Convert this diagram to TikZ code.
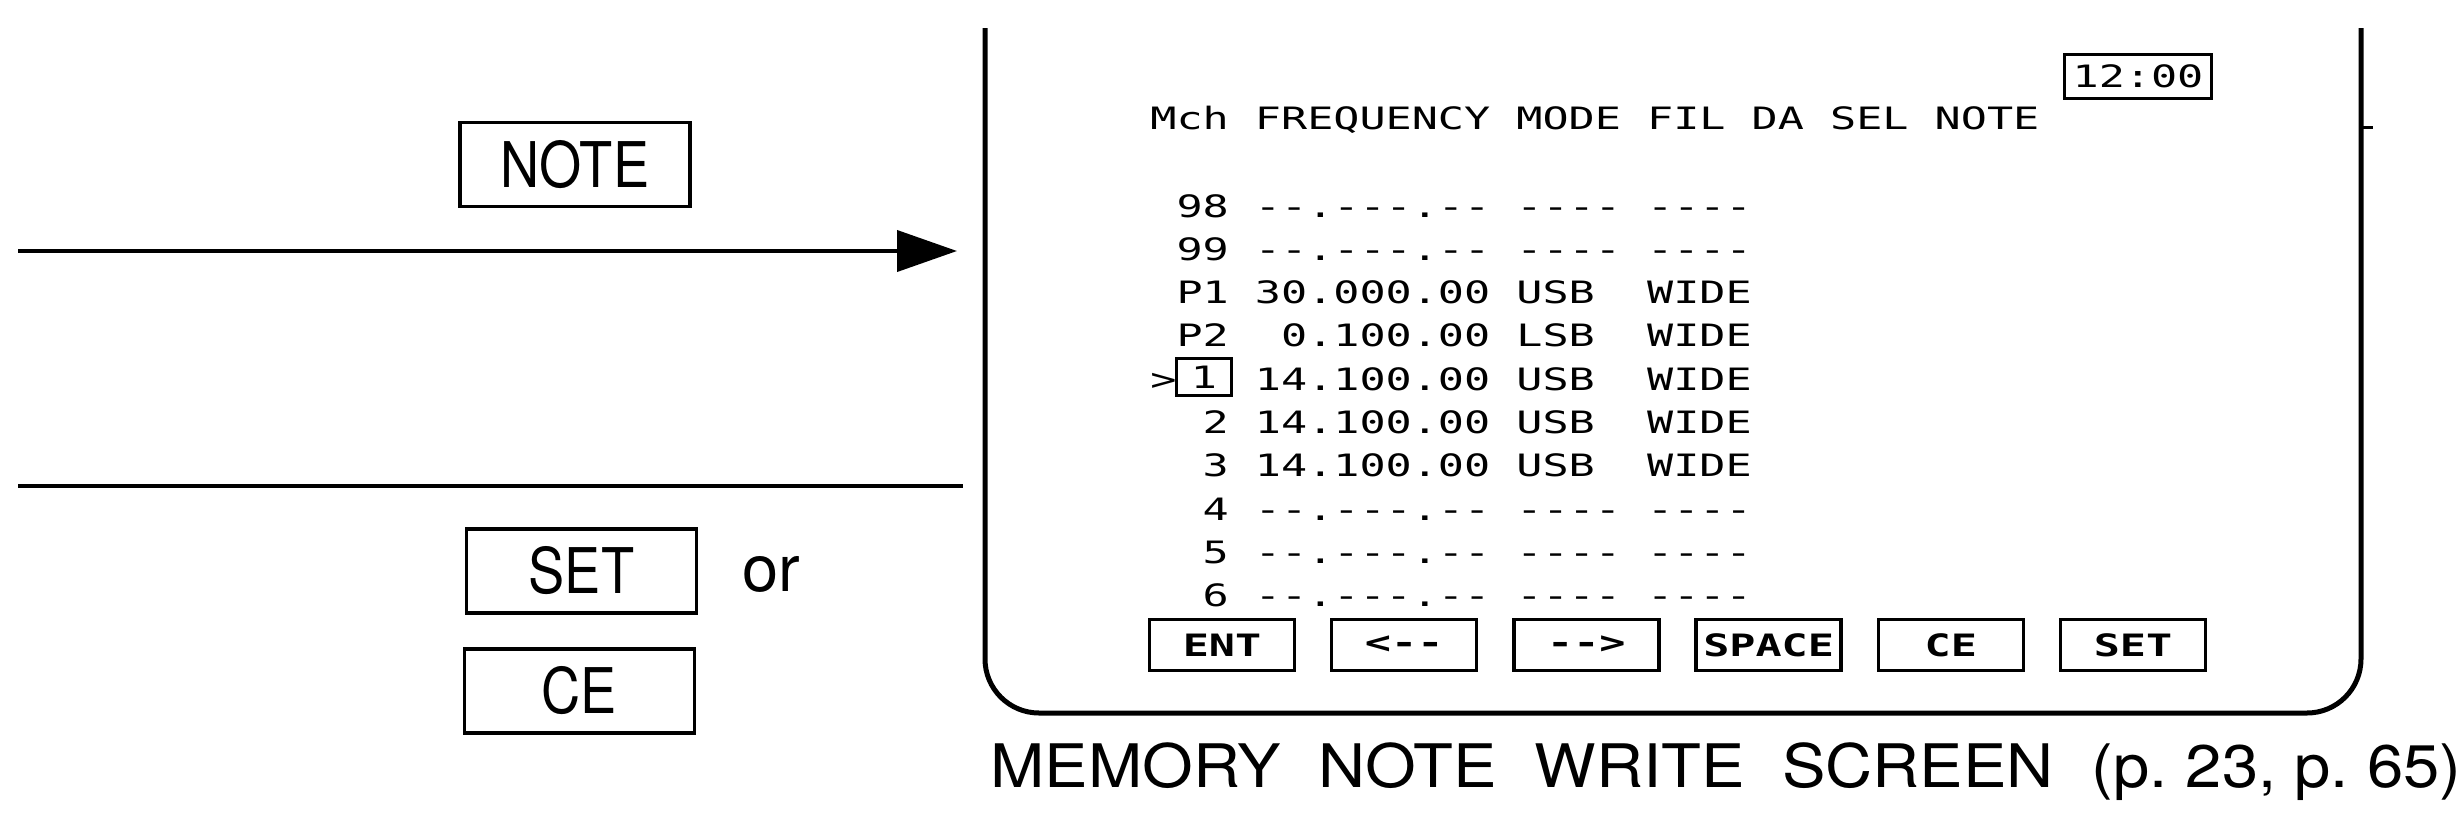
\documentclass[tikz,border=0pt]{standalone}
\usepackage{fontspec}
\setmainfont{TeX Gyre Heros}
\newfontfamily\keyfont[FakeStretch=0.86]{TeX Gyre Heros}
\newfontfamily\capfont[FakeStretch=1.086]{TeX Gyre Heros}
\newfontfamily\scrfont[FakeStretch=1.41,Ligatures=TeXOff]{DejaVu Sans Mono}
\usetikzlibrary{arrows.meta, positioning}
\newcommand{\capgap}{\hspace{0.63em}}
\tikzstyle{key} = [rectangle, draw=black, line width=1.75pt, minimum width=115pt, minimum height=42pt, inner sep=0pt, font=\keyfont\fontsize{31.5}{36}\selectfont]
\tikzstyle{softkey} = [rectangle, draw=black, line width=1.75pt, minimum width=72.5pt, minimum height=25.5pt, inner sep=0pt, font=\scrfont\bfseries\fontsize{15.4}{18}\selectfont]
\tikzstyle{clock} = [softkey, minimum width=73.5pt, minimum height=22pt, font=\scrfont\fontsize{15.4}{18}\selectfont]
\tikzstyle{scrrow} = [anchor=base west, inner sep=0pt, font=\scrfont\fontsize{15.4}{18}\selectfont]
\tikzstyle{arrow} = [line width=2pt,-{Triangle[length=30pt,width=20.5pt]}]
\tikzstyle{connect} = [line width=1.75pt,-]
\tikzstyle{scrframe} = [line width=2.5pt, rounded corners=27pt]

\begin{document}
\begin{tikzpicture}[x=0.5pt, y=-0.5pt]
\useasboundingbox (0,0) rectangle (2459,820);

% keys on the left
\node(note)[key] at (575,164.5) {NOTE};
\node(set)[key] at (581.5,571) {SET};
\node(ce)[key] at (579.5,691) {CE};
\node(or)[anchor=base west, inner sep=0pt, font=\fontsize{32.5}{38}\selectfont] at (742,591) {or};

\coordinate (a1) at (18,251);
\coordinate (a2) at (957,251);
\coordinate (b1) at (18,486);
\coordinate (b2) at (963,486);

\draw [arrow] (a1) -- (a2);
\draw [connect] (b1) -- (b2);

% screen
\draw [scrframe] (985,28) -- (985,713) -- (2361,713) -- (2361,28);
\draw [line width=1.5pt] (2361,127) -- (2373,127);
\node(clk)[clock] at (2138,76.5) {12:00};
\node(head)[scrrow] at (1150,129) {Mch FREQUENCY MODE FIL DA SEL NOTE};

\foreach \txt [count=\i from 0] in {{~98 --.---.-- ---- ----},{~99 --.---.-- ---- ----},
  {~P1 30.000.00 USB~~WIDE},{~P2~~0.100.00 LSB~~WIDE},{>~~~14.100.00 USB~~WIDE},
  {~~2 14.100.00 USB~~WIDE},{~~3 14.100.00 USB~~WIDE},{~~4 --.---.-- ---- ----},
  {~~5 --.---.-- ---- ----},{~~6 --.---.-- ---- ----}}
  \node(r\i)[scrrow] at (1150,{217+43.3*\i}) {\txt};

\node(cur)[softkey, minimum width=27.5pt, minimum height=18.5pt, line width=1.5pt, font=\scrfont\fontsize{15.4}{18}\selectfont] at (1204,377) {1};

\foreach \lbl [count=\i from 0] in {ENT,{<--},{-->},SPACE,CE,SET}
  \node(k\i)[softkey] at ({1222+182.2*\i},645) {\lbl};

\node(cap)[anchor=base west, inner sep=0pt, font=\capfont\fontsize{30}{36}\selectfont] at (990,787)
  {MEMORY\capgap NOTE\capgap WRITE\capgap SCREEN\capgap (p.\ 23, p.\ 65)};
\end{tikzpicture}
\end{document}
